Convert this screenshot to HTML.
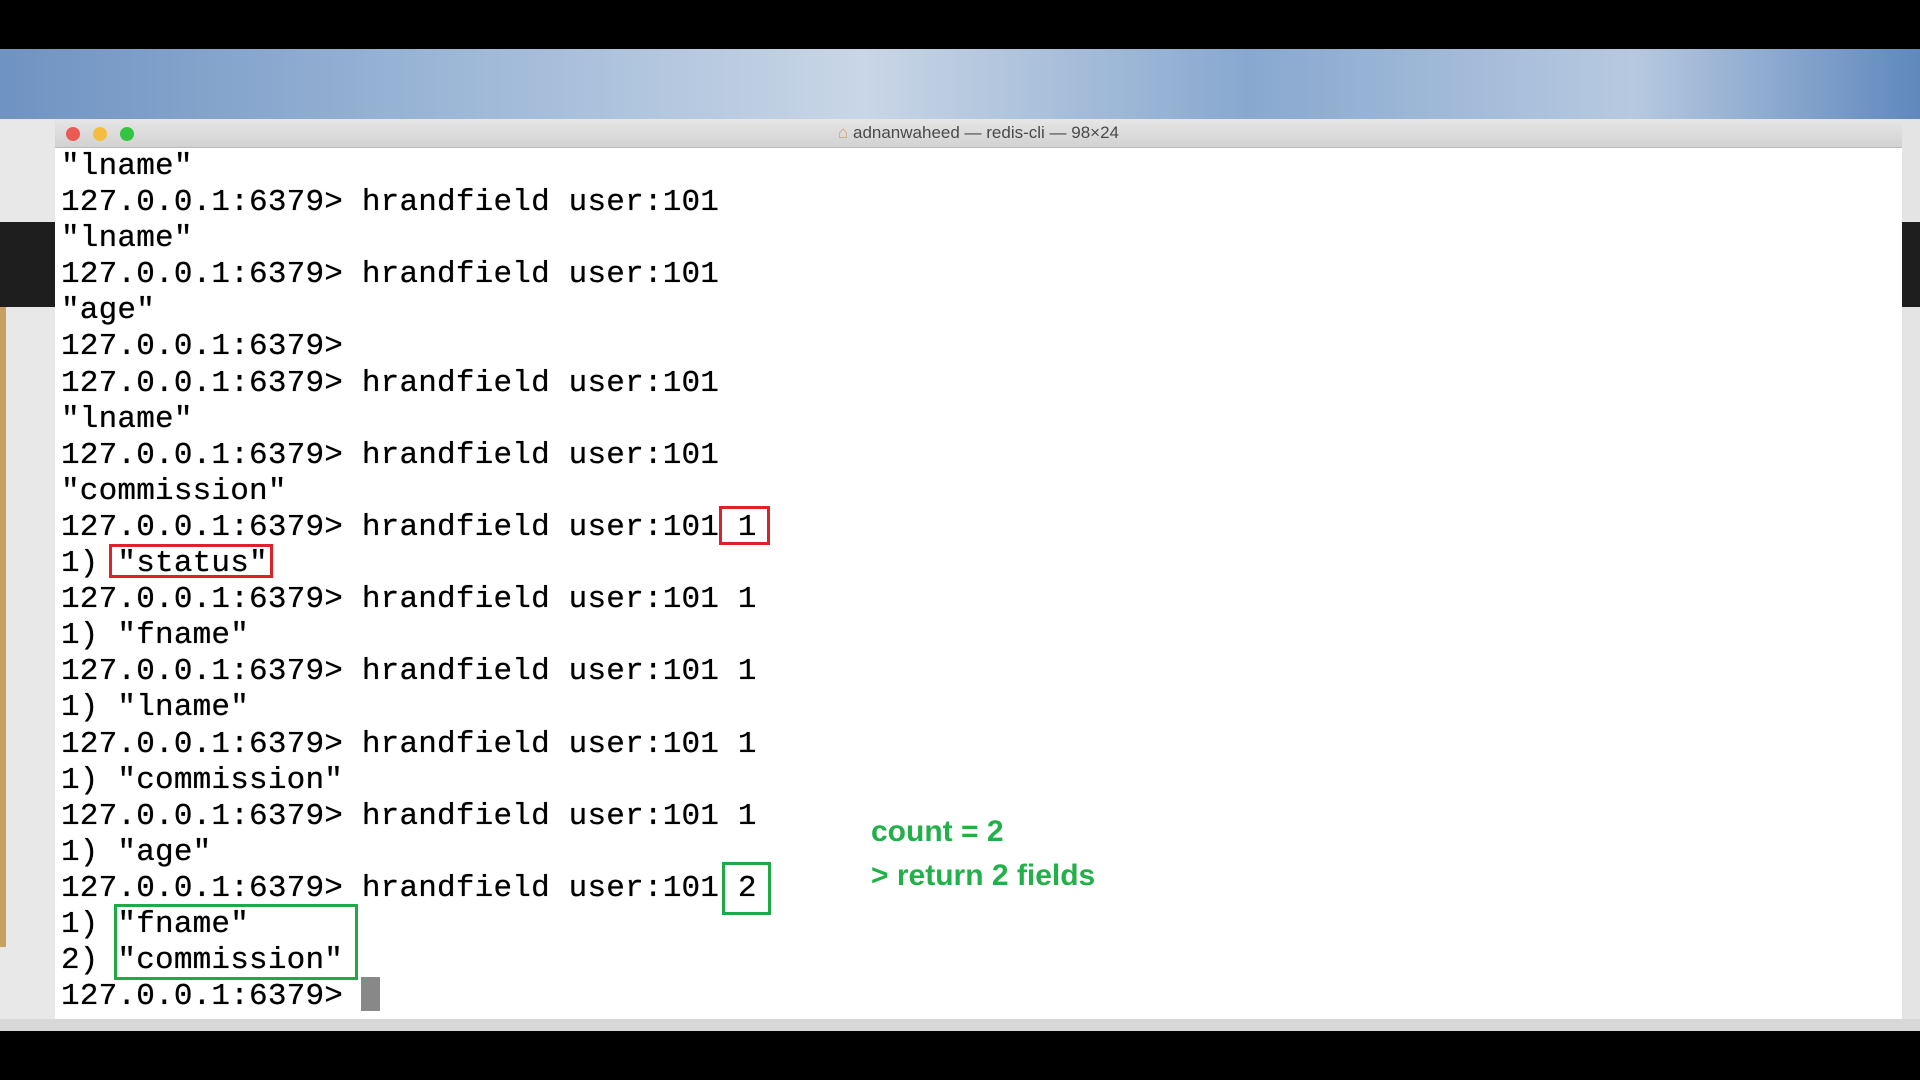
<!DOCTYPE html>
<html><head><meta charset="utf-8"><style>
html,body{margin:0;padding:0;width:1920px;height:1080px;overflow:hidden;background:#000;position:relative;font-family:"Liberation Sans",sans-serif}
.sky{position:absolute;left:0;top:49px;width:1920px;height:75px;background:linear-gradient(90deg,#6f93c2 0%,#9fb9d8 25%,#c9d6e6 45%,#88a8cf 65%,#b7c9e0 85%,#5f88bd 100%)}
.lside{position:absolute;left:0;top:119px;width:55px;height:912px;background:#e8e8e8}
.lside .dk{position:absolute;left:0;top:103px;width:55px;height:85px;background:#1e1e1e}
.lside .ylw{position:absolute;left:0;top:188px;width:6px;height:640px;background:#c8a060}
.rside{position:absolute;left:1900px;top:119px;width:20px;height:912px;background:#e4e4e4}
.rside .dk{position:absolute;left:0;top:103px;width:20px;height:85px;background:#1e1e1e}
.browserbot{position:absolute;left:0;top:1019px;width:1920px;height:12px;background:#d8d8d8}
.win{position:absolute;left:55px;top:119px;width:1847px;height:900px;background:#fff}
.tb{position:absolute;left:0;top:0;width:100%;height:28px;background:linear-gradient(#e6e6e6,#d2d2d2);border-bottom:1px solid #bbb}
.dot{position:absolute;top:8px;width:14px;height:14px;border-radius:50%}
.title{position:absolute;left:0;width:100%;top:4px;text-align:center;font-size:17px;color:#4a4a4a}
.term{position:absolute;left:6px;top:30px;font-family:"Liberation Mono",monospace;font-size:31px;letter-spacing:0.2px;line-height:36.1px;color:#000;white-space:pre;margin:0;text-shadow:0 0 0.6px #000}
.box{position:absolute;border:3px solid}
.r{border-color:#e0202a}.g{border-color:#22a844}
.note{position:absolute;left:871px;font-weight:bold;font-size:30px;color:#22b04a}
</style></head><body>
<div class="sky"></div>
<div class="lside"><div class="dk"></div><div class="ylw"></div></div>
<div class="rside"><div class="dk"></div></div>
<div class="browserbot"></div>
<div class="win">
<div class="tb">
<div class="dot" style="left:11px;background:#ed5a55"></div>
<div class="dot" style="left:38px;background:#f5bd3f"></div>
<div class="dot" style="left:65px;background:#34c444"></div>
<div class="title"><span style="color:#c9a070">⌂</span> adnanwaheed — redis-cli — 98×24</div>
</div>
<pre class="term">"lname"
127.0.0.1:6379> hrandfield user:101
"lname"
127.0.0.1:6379> hrandfield user:101
"age"
127.0.0.1:6379>
127.0.0.1:6379> hrandfield user:101
"lname"
127.0.0.1:6379> hrandfield user:101
"commission"
127.0.0.1:6379> hrandfield user:101 1
1) "status"
127.0.0.1:6379> hrandfield user:101 1
1) "fname"
127.0.0.1:6379> hrandfield user:101 1
1) "lname"
127.0.0.1:6379> hrandfield user:101 1
1) "commission"
127.0.0.1:6379> hrandfield user:101 1
1) "age"
127.0.0.1:6379> hrandfield user:101 2
1) "fname"
2) "commission"
127.0.0.1:6379> </pre>
<div style="position:absolute;left:306px;top:858px;width:19px;height:34px;background:#888"></div>
</div>
<div class="box r" style="left:719px;top:506px;width:45px;height:33px"></div>
<div class="box r" style="left:109px;top:544px;width:158px;height:28px"></div>
<div class="box g" style="left:722px;top:862px;width:43px;height:47px"></div>
<div class="box g" style="left:114px;top:904px;width:238px;height:70px"></div>
<div class="note" style="top:815px">count = 2</div>
<div class="note" style="top:859px">&gt; return 2 fields</div>
</body></html>
